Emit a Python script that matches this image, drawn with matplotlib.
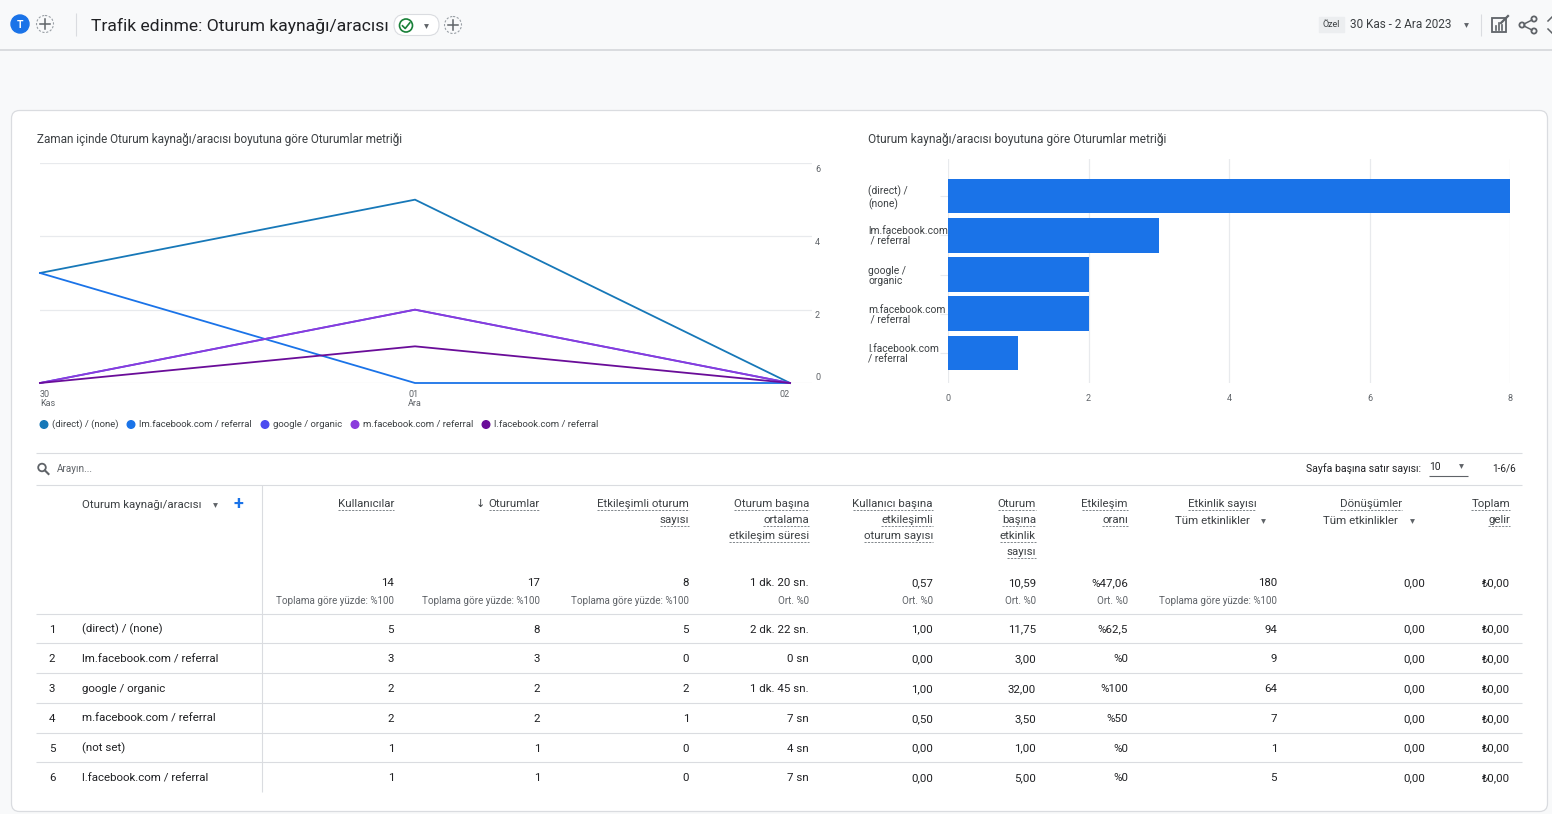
import matplotlib
matplotlib.use('Agg')
import matplotlib.pyplot as plt
from matplotlib.patches import Circle, FancyBboxPatch, Rectangle
import matplotlib.transforms as mtransforms

W, H = 1552, 814
plt.rcParams['font.family'] = ['Roboto', 'DejaVu Sans']

# --- chart data ---
days = ['30\nKas', '01\nAra', '02']
series_names = ['(direct) / (none)', 'lm.facebook.com / referral', 'google / organic',
                'm.facebook.com / referral', 'l.facebook.com / referral']
series_colors = ['#1778b8', '#1a73e8', '#4b4bf0', '#8a3bdc', '#6a0d99']
direct_daily = [3, 5, 0]
lm_daily = [3, 0, 0]
google_daily = [0, 2, 0]
mfb_daily = [0, 2, 0]
lfb_daily = [0, 1, 0]
y_ticks = [0, 2, 4, 6]

bar_labels = ['(direct) /\n(none)', 'lm.facebook.com\n / referral', 'google /\norganic',
              'm.facebook.com\n / referral', 'l.facebook.com\n/ referral']
bar_sessions = [8, 3, 2, 2, 1]

# --- table data ---
row_names = ['(direct) / (none)', 'lm.facebook.com / referral', 'google / organic',
             'm.facebook.com / referral', '(not set)', 'l.facebook.com / referral']
users = [5, 3, 2, 2, 1, 1]
sessions = [8, 3, 2, 2, 1, 1]
engaged = [5, 0, 2, 1, 0, 0]
avg_time = ['2 dk. 22 sn.', '0 sn', '1 dk. 45 sn.', '7 sn', '4 sn', '7 sn']
engaged_per_user = ['1,00', '0,00', '1,00', '0,50', '0,00', '0,00']
events_per_session = ['11,75', '3,00', '32,00', '3,50', '1,00', '5,00']
engagement_rate = ['%62,5', '%0', '%100', '%50', '%0', '%0']
event_count = [94, 9, 64, 7, 1, 5]
conversions = ['0,00'] * 6
revenue = ['₺0,00'] * 6

totals = ['14', '17', '8', '1 dk. 20 sn.', '0,57', '10,59', '%47,06', '180', '0,00', '₺0,00']
total_notes = ['Toplama göre yüzde: %100'] * 3 + ['Ort. %0'] * 4 + ['Toplama göre yüzde: %100', '', '']

col_headers = [['Kullanıcılar'], ['Oturumlar'], ['Etkileşimli oturum', 'sayısı'],
               ['Oturum başına', 'ortalama', 'etkileşim süresi'],
               ['Kullanıcı başına', 'etkileşimli', 'oturum sayısı'],
               ['Oturum', 'başına', 'etkinlik', 'sayısı'], ['Etkileşim', 'oranı'],
               ['Etkinlik sayısı'], ['Dönüşümler'], ['Toplam', 'gelir']]

DARK = '#202124'
MID = '#3c4043'
GREY = '#5f6368'
LINE = '#dadce0'
BLUE = '#1a73e8'
FS = 8.25

fig = plt.figure(figsize=(W / 100, H / 100), dpi=100, facecolor='#f8f9fa')
ov = fig.add_axes([0, 0, 1, 1], zorder=0)
ov.set_xlim(0, W)
ov.set_ylim(H, 0)
ov.axis('off')


def px_axes(l, t, r, b):
    return fig.add_axes([l / W, 1 - b / H, (r - l) / W, (b - t) / H], zorder=2, facecolor='none')


def txt(x, y, s, size=FS, color=DARK, ha='left', va='center', **kw):
    return ov.text(x, y, s, fontsize=size, color=color, ha=ha, va=va, **kw)


def hline(y, x0, x1, color=LINE, lw=0.8):
    ov.plot([x0, x1], [y, y], color=color, lw=lw, solid_capstyle='butt')


def vline(x, y0, y1, color=LINE, lw=0.8):
    ov.plot([x, x], [y0, y1], color=color, lw=lw, solid_capstyle='butt')


def tri(x, y, size=3.5, color=GREY):
    ov.plot(x, y, marker='v', ms=size, color=color, mec='none')


def plus_circle(x, y):
    ov.add_patch(Circle((x, y), 8.5, fill=False, ec='#9aa0a6', lw=0.8, ls=(0, (2, 1.5))))
    ov.plot([x - 5, x + 5], [y, y], color=GREY, lw=1.1)
    ov.plot([x, x], [y - 5, y + 5], color=GREY, lw=1.1)


# --- header bar ---
hline(50, 0, W, color='#d5d7da', lw=1.2)
ov.add_patch(Circle((20, 24), 9, color=BLUE))
txt(20, 24.5, 'T', size=7.5, color='white', ha='center', weight='bold')
plus_circle(45, 24)
vline(76, 13, 36)
txt(91, 26, 'Trafik edinme: Oturum kaynağı/aracısı', size=12.6, color=DARK)
ov.add_patch(FancyBboxPatch((394, 14.5), 45, 21, boxstyle='round,pad=0,rounding_size=10.5',
                            fc='white', ec=LINE, lw=0.8))
ov.add_patch(Circle((406, 25.5), 6.5, fill=False, ec='#188038', lw=1.2))
ov.plot([402.5, 405.2, 409.8], [25.8, 28.5, 22.8], color='#188038', lw=1.2)
tri(426, 25.5)
plus_circle(453, 25)

ov.add_patch(Rectangle((1319, 17), 25, 15, color='#eceef0'))
txt(1331.5, 24.5, 'Özel', size=6.5, color=MID, ha='center')
txt(1350, 25, '30 Kas - 2 Ara 2023', size=8.5, color=MID)
tri(1466, 25)
vline(1481, 14, 36)
# edit-report icon
ov.add_patch(Rectangle((1492, 18), 14, 14, fill=False, ec=GREY, lw=1.3))
for bxp, bh in [(1496, 4), (1499, 7), (1502, 5)]:
    ov.plot([bxp, bxp], [30, 30 - bh], color=GREY, lw=1.2)
ov.plot([1501, 1508], [23, 16], color=GREY, lw=1.6)
# share icon
for cx, cy in [(1534, 19), (1522, 25), (1534, 31)]:
    ov.add_patch(Circle((cx, cy), 2.6, fill=False, ec=GREY, lw=1.3))
ov.plot([1524, 1532], [24, 20], color=GREY, lw=1.1)
ov.plot([1524, 1532], [26, 30], color=GREY, lw=1.1)
ov.plot([1548, 1552], [21, 17], color=GREY, lw=1.1)
ov.plot([1548, 1552], [29, 33], color=GREY, lw=1.1)

# --- card ---
ov.add_patch(FancyBboxPatch((11.5, 110.5), 1536, 701, boxstyle='round,pad=0,rounding_size=8',
                            fc='white', ec=LINE, lw=0.9))

txt(37, 139.5, 'Zaman içinde Oturum kaynağı/aracısı boyutuna göre Oturumlar metriği', size=8.45, color=MID)
txt(868, 139.5, 'Oturum kaynağı/aracısı boyutuna göre Oturumlar metriği', size=8.6, color=MID)

# --- line chart ---
ax = px_axes(40, 163, 812, 383)
line_series = [direct_daily, lm_daily, google_daily, mfb_daily, lfb_daily]
xs = list(range(len(days)))
for vals, col in zip(line_series, series_colors):
    ax.plot(xs, vals, color=col, lw=1.3, clip_on=False, solid_joinstyle='miter')
ax.set_xlim(0, 2 * 772 / 750)
ax.set_ylim(0, 6)
ax.set_yticks(y_ticks)
ax.tick_params(axis='y', length=0, labelleft=False, labelright=False)
ytrans = mtransforms.blended_transform_factory(ax.transAxes, ax.transData)
for v in y_ticks:
    dy = 6 if v == 0 else -6
    tr = mtransforms.offset_copy(ytrans, fig=fig, x=3, y=dy, units='dots')
    ax.text(1.0, v, str(v), transform=tr, fontsize=6.5, color=GREY, ha='left', va='center')
ax.set_xticks(xs)
ax.set_xticklabels(days, linespacing=0.95)
ax.tick_params(axis='x', length=0, pad=5, labelsize=6.5, labelcolor=GREY)
for lbl, ha in zip(ax.get_xticklabels(), ['left', 'center', 'right']):
    lbl.set_ha(ha)
    lbl.set_multialignment('left')
ax.grid(axis='y', color='#e8eaed', lw=0.9)
ax.set_axisbelow(True)
for s in ax.spines.values():
    s.set_visible(False)

# legend
leg_x = [44, 131, 265, 355, 486]
for lx, name, col in zip(leg_x, series_names, series_colors):
    ov.add_patch(Circle((lx, 424.5), 3.8, color=col))
    txt(lx + 8, 424.5, name, size=6.8, color=MID)

# --- bar chart ---
bx = px_axes(948, 159, 1510, 383)
ypos = list(range(len(bar_sessions)))
bx.barh(ypos, bar_sessions, height=0.89, color=BLUE)
bx.set_xlim(0, 8)
bx.set_ylim(4.764, -0.943)
bx.set_xticks([0, 2, 4, 6, 8])
bx.tick_params(axis='x', length=0, pad=8, labelsize=6.5, labelcolor=GREY)
bx.set_yticks(ypos)
bx.set_yticklabels(bar_labels, linespacing=1.08)
bx.tick_params(axis='y', length=6, width=0.8, color='#e8eaed', pad=80 * 0.72 - 6, labelsize=7.4, labelcolor=MID)
for lbl in bx.get_yticklabels():
    lbl.set_ha('left')
bx.grid(axis='x', color='#e8eaed', lw=0.9)
bx.set_axisbelow(True)
for s in bx.spines.values():
    s.set_visible(False)

# --- table toolbar ---
hline(452.5, 36, 1522)
ov.add_patch(Circle((42, 467.5), 3.8, fill=False, ec=GREY, lw=1.3))
ov.plot([44.8, 48.5], [470.3, 474], color=GREY, lw=1.5)
txt(57, 469.5, 'Arayın...', size=7.2, color=GREY)
txt(1421, 468.5, 'Sayfa başına satır sayısı:', size=7.6, color=DARK, ha='right')
txt(1429, 466.5, '10', size=7.4, color=DARK)
hline(475.5, 1429, 1468, color=GREY, lw=0.8)
tri(1461, 466)
txt(1516, 468.5, '1-6/6', size=7.2, color=DARK, ha='right')

hline(484.5, 36, 1522)

# --- table header ---
renderer = fig.canvas.get_renderer()


def under(t):
    bb = t.get_window_extent(renderer)
    y = H - bb.y0 + 1.0
    ov.plot([bb.x0, bb.x1], [y, y], color='#80868b', lw=0.7, ls=(0, (2.2, 1.3)))


val_right = [394, 540, 689, 809, 933, 1036, 1128, 1277, 1425, 1510]
hdr_y0 = 504
hdr_step = 16
txt(201, 505, 'Oturum kaynağı/aracısı', color=MID, ha='right')
tri(215, 505)
txt(238, 503.5, '+', size=13, color=BLUE, ha='center', weight='bold')

for ci, lines in enumerate(col_headers):
    for li, s in enumerate(lines):
        y = hdr_y0 + li * hdr_step
        if ci == 7:
            t = txt(1222, y, s, color=MID, ha='center')
        elif ci == 8:
            t = txt(1371, y, s, color=MID, ha='center')
        else:
            t = txt(val_right[ci], y, s, color=MID, ha='right')
        under(t)
txt(480, 504, '↓', size=8, color=MID, ha='center')
txt(1250, 520.5, 'Tüm etkinlikler', color=MID, ha='right')
tri(1263, 521)
txt(1398, 520.5, 'Tüm etkinlikler', color=MID, ha='right')
tri(1412, 521)

# totals
for ci in range(len(totals)):
    txt(val_right[ci], 583.5, totals[ci], color=DARK, ha='right')
    if total_notes[ci]:
        txt(val_right[ci], 600.5, total_notes[ci], size=7.1, color=GREY, ha='right')

hline(613.5, 36, 1522)

# rows
row_top = 613.5
row_h = 29.75
columns = [users, sessions, engaged, avg_time, engaged_per_user, events_per_session,
           engagement_rate, event_count, conversions, revenue]
for ri, name in enumerate(row_names):
    top = row_top + ri * row_h
    if ri % 2 == 0:
        ov.add_patch(Rectangle((36, top), 1486, row_h, color='#f8f9fa', zorder=0.5))
    if ri > 0:
        hline(top, 36, 1522)
    yc = top + row_h / 2 + 1.2
    txt(52, yc, str(ri + 1), color=DARK, ha='center')
    txt(82, yc, name, color=DARK)
    for ci, col in enumerate(columns):
        txt(val_right[ci], yc, str(col[ri]), color=DARK, ha='right')
vline(262, 484.5, row_top + 6 * row_h)

fig.savefig('out.png', dpi=100, facecolor=fig.get_facecolor())
